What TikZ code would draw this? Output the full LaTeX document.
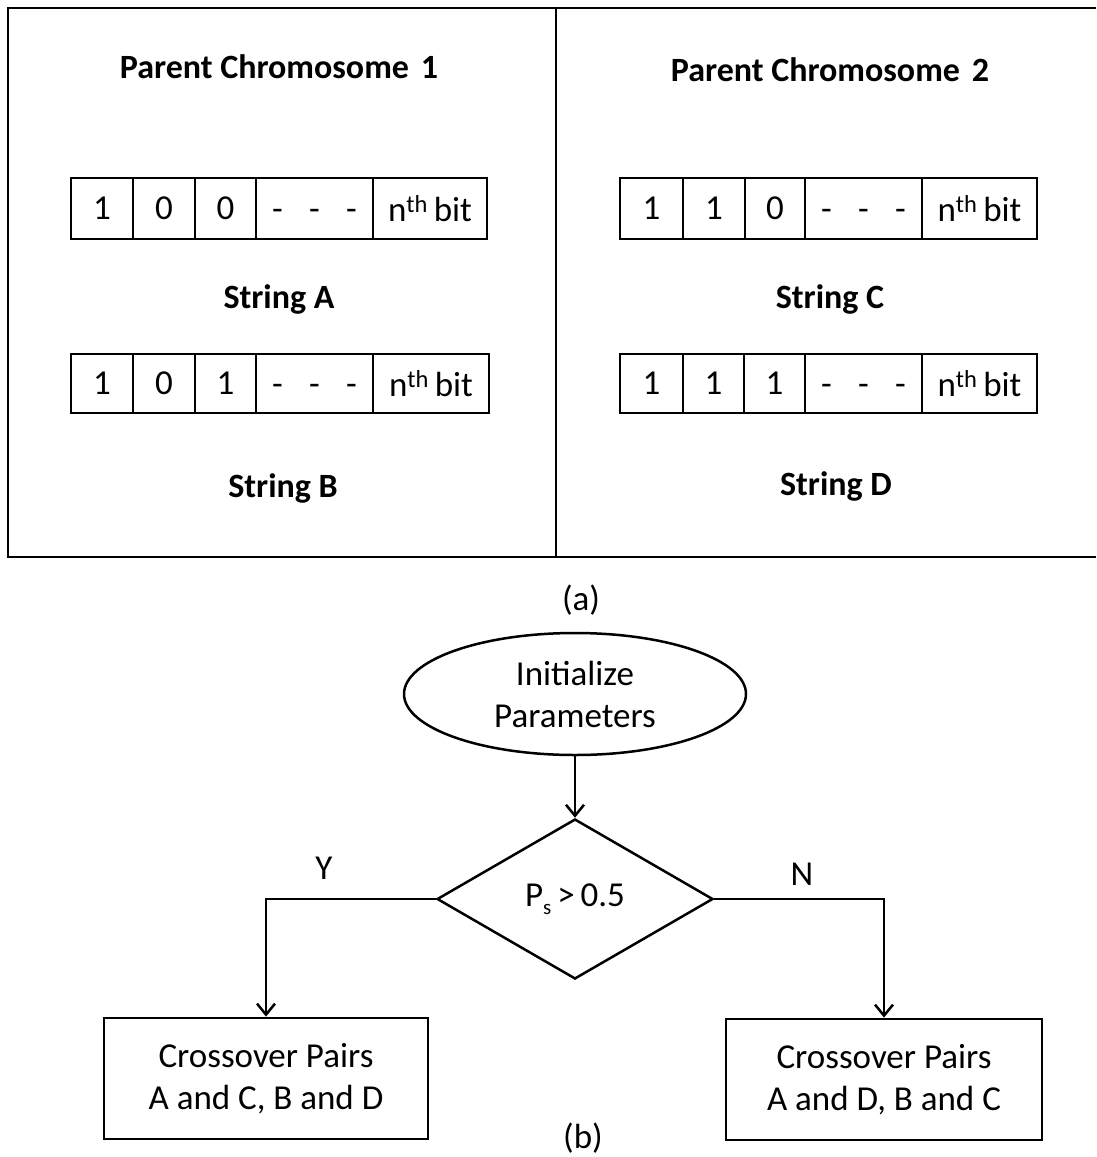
\documentclass[tikz,border=0pt]{standalone}
\usepackage{fontspec}
\setmainfont{Carlito}
\usetikzlibrary{shapes.geometric,arrows.meta}
\newcommand{\nth}{n\textsuperscript{th}\,bit}
\newcommand{\dsh}{\raisebox{-0.25em}{-\hspace{0.75em}-\hspace{0.75em}-}}
\begin{document}
\begin{tikzpicture}[x=1pt,y=-1pt,
  txt/.style={font=\fontsize{35}{42}\selectfont},
  lbl/.style={font=\fontsize{34}{40}\selectfont\bfseries},
  cell/.style={draw,line width=2.8pt,rectangle,inner sep=0pt,txt},
  dcell/.style={cell,text height=0.63em,text depth=0pt},
  arr/.style={line width=2.5pt,-{Straight Barb[length=11pt,width=18pt,line width=2.5pt]}},
  fbox/.style={draw,line width=2.8pt,rectangle,inner sep=0pt,align=center,txt}]
\useasboundingbox (0,0) rectangle (1096,1157);
\fill[white] (0,0) rectangle (1096,1157);
% frame (a)
\draw[line width=2.5pt] (1096,8) -- (8,8) -- (8,557) -- (1096,557);
\draw[line width=2.5pt] (556,8) -- (556,557);
\node[lbl] (p1) at (279,67) {Parent Chromosome\hspace{0.35em}1};
\node[lbl] (p2) at (830,70) {Parent Chromosome\hspace{0.35em}2};
% String A
\node[cell,minimum width=62pt,minimum height=61pt] (a1) at (102,208.5) {1};
\node[cell,minimum width=62pt,minimum height=61pt] (a2) at (164,208.5) {0};
\node[cell,minimum width=61pt,minimum height=61pt] (a3) at (225.5,208.5) {0};
\node[dcell,minimum width=117pt,minimum height=61pt] (a4) at (314.5,208.5) {\dsh};
\node[cell,minimum width=114pt,minimum height=61pt] (a5) at (430,208.5) {\nth};
\node[lbl] (sa) at (279,299) {String A};
% String B
\node[cell,minimum width=62pt,minimum height=59pt] (b1) at (102,383.5) {1};
\node[cell,minimum width=62pt,minimum height=59pt] (b2) at (164,383.5) {0};
\node[cell,minimum width=61pt,minimum height=59pt] (b3) at (225.5,383.5) {1};
\node[dcell,minimum width=117pt,minimum height=59pt] (b4) at (314.5,383.5) {\dsh};
\node[cell,minimum width=116pt,minimum height=59pt] (b5) at (431,383.5) {\nth};
\node[lbl] (sb) at (283,488) {String B};
% String C
\node[cell,minimum width=63pt,minimum height=61pt] (c1) at (651.5,208.5) {1};
\node[cell,minimum width=62pt,minimum height=61pt] (c2) at (714,208.5) {1};
\node[cell,minimum width=60pt,minimum height=61pt] (c3) at (775,208.5) {0};
\node[dcell,minimum width=117pt,minimum height=61pt] (c4) at (863.5,208.5) {\dsh};
\node[cell,minimum width=115pt,minimum height=61pt] (c5) at (979.5,208.5) {\nth};
\node[lbl] (sc) at (830,299) {String C};
% String D
\node[cell,minimum width=63pt,minimum height=59pt] (d1) at (651.5,383.5) {1};
\node[cell,minimum width=61pt,minimum height=59pt] (d2) at (713.5,383.5) {1};
\node[cell,minimum width=61pt,minimum height=59pt] (d3) at (774.5,383.5) {1};
\node[dcell,minimum width=117pt,minimum height=59pt] (d4) at (863.5,383.5) {\dsh};
\node[cell,minimum width=115pt,minimum height=59pt] (d5) at (979.5,383.5) {\nth};
\node[lbl] (sd) at (836,486) {String D};
\node[txt] (capa) at (581,600) {(a)};
% flowchart (b)
\node[draw,ellipse,line width=2.5pt,minimum width=342pt,minimum height=122pt,inner sep=0pt,align=center,txt] (init) at (575,694) {Initialize\\Parameters};
\node[draw,diamond,line width=2.5pt,aspect=1.725,minimum width=276pt,minimum height=160pt,inner sep=0pt,txt] (dec) at (575,899) {P\raisebox{-0.45ex}{\fontsize{21}{21}\selectfont s}\,>\,0.5};
\node[fbox,minimum width=324pt,minimum height=121pt] (bl) at (266,1078.5) {Crossover Pairs\\A and C, B and D};
\node[fbox,minimum width=316pt,minimum height=121pt] (br) at (884,1079.5) {Crossover Pairs\\A and D, B and C};
\draw[arr] (init) -- (dec);
\draw[arr] (dec.west) -| (bl.north);
\draw[arr] (dec.east) -| (br.north);
\node[txt] (ly) at (324,868) {Y};
\node[txt] (ln) at (802,874) {N};
\node[txt] (capb) at (583,1138) {(b)};
\end{tikzpicture}
\end{document}
